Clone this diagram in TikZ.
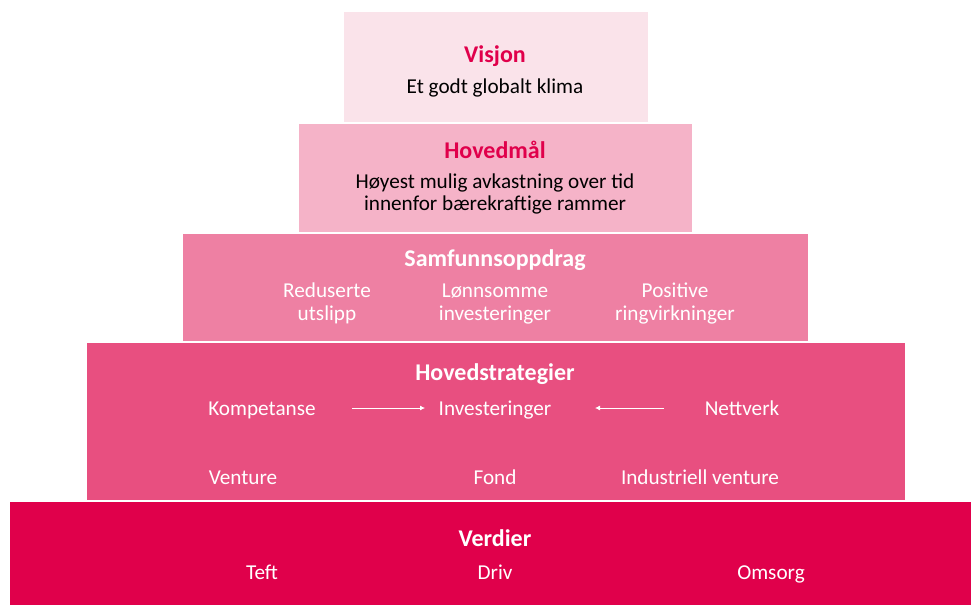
\documentclass[tikz,border=0pt]{standalone}
\usepackage{fontspec}
\setmainfont{Carlito}
\usetikzlibrary{arrows.meta}
\definecolor{cV}{HTML}{FAE3EA}
\definecolor{cH}{HTML}{F5B3C8}
\definecolor{cS}{HTML}{EE80A3}
\definecolor{cHS}{HTML}{E84F80}
\definecolor{cVe}{HTML}{E0004B}
\definecolor{cTitle}{HTML}{E0004B}
\tikzset{
  lvl/.style={draw=none, inner sep=0pt},
  ttl/.style={font=\fontsize{24}{28}\selectfont\bfseries, inner sep=0pt, anchor=base},
  txt/.style={font=\fontsize{21.2}{25}\selectfont, inner sep=0pt, anchor=base, align=center},
  wtxt/.style={txt, text=white},
  arr/.style={draw=white, line width=0.8pt, -{Latex[length=5pt,width=5pt]}}
}
\begin{document}
\begin{tikzpicture}[x=1pt,y=-1pt]
\useasboundingbox (0,0) rectangle (971,605);
% boxes
\fill[cV] (344,12) rectangle (648,122);
\fill[cH] (299,124) rectangle (692,232);
\fill[cS] (183,234) rectangle (808,341);
\fill[cHS] (87,343) rectangle (905,500);
\fill[cVe] (10,502) rectangle (971,605);
% Visjon
\node[ttl, text=cTitle] (visjon) at (495,62) {Visjon};
\node[txt] (klima) at (495,93) {Et godt globalt klima};
% Hovedmål
\node[ttl, text=cTitle] (hovedmal) at (495,158) {Hovedmål};
\node[txt] (hm1) at (495,188) {Høyest mulig avkastning over tid};
\node[txt] (hm2) at (495,210) {innenfor bærekraftige rammer};
% Samfunnsoppdrag
\node[ttl, text=white] (samf) at (495,266) {Samfunnsoppdrag};
\node[wtxt] (red1) at (327,297) {Reduserte};
\node[wtxt] (red2) at (327,320) {utslipp};
\node[wtxt] (lon1) at (495,297) {Lønnsomme};
\node[wtxt] (lon2) at (495,320) {investeringer};
\node[wtxt] (pos1) at (675,297) {Positive};
\node[wtxt] (pos2) at (675,320) {ringvirkninger};
% Hovedstrategier
\node[ttl, text=white] (hs) at (495,380) {Hovedstrategier};
\node[wtxt] (komp) at (262,415) {Kompetanse};
\node[wtxt] (inv) at (495,415) {Investeringer};
\node[wtxt] (nett) at (742,415) {Nettverk};
\node[wtxt] (vent) at (243,484) {Venture};
\node[wtxt] (fond) at (495,484) {Fond};
\node[wtxt] (ind) at (700,484) {Industriell venture};
\coordinate (a1s) at (352,408);
\coordinate (a1e) at (425,408);
\coordinate (a2s) at (664,408);
\coordinate (a2e) at (595,408);
\draw[arr] (a1s) -- (a1e);
\draw[arr] (a2s) -- (a2e);
% Verdier
\node[ttl, text=white] (verd) at (495,546) {Verdier};
\node[wtxt] (teft) at (262,579) {Teft};
\node[wtxt] (driv) at (495,579) {Driv};
\node[wtxt] (oms) at (771,579) {Omsorg};
\end{tikzpicture}
\end{document}
